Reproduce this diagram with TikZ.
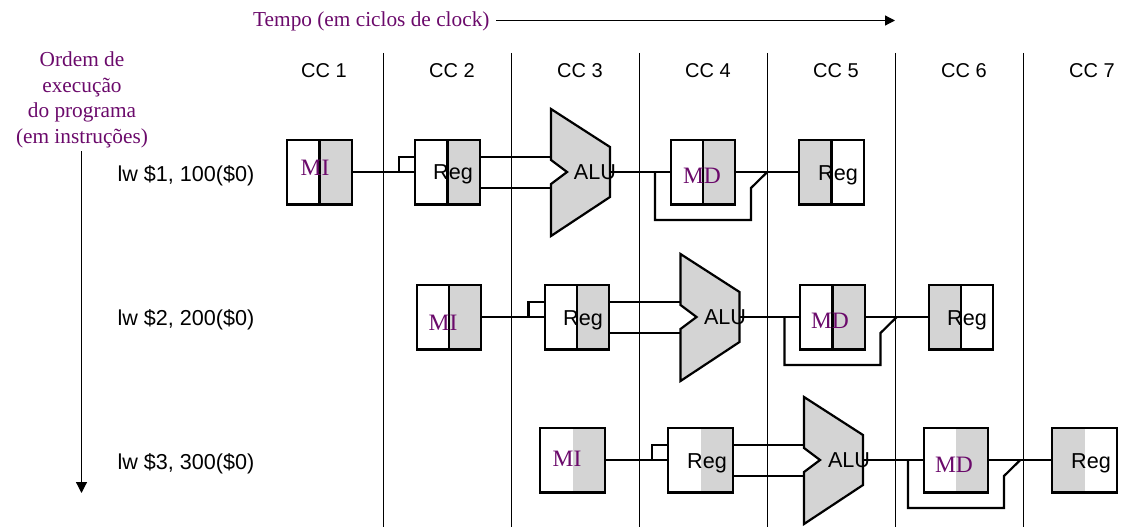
\documentclass[tikz,border=0pt]{standalone}
\usepackage{fontspec}
\setmainfont{Liberation Serif}
\setsansfont{Liberation Sans}
\usetikzlibrary{calc,arrows.meta}
\definecolor{pur}{HTML}{6B0A6B}
\definecolor{unitgray}{HTML}{D4D4D4}
\tikzset{
  wire/.style={line width=2.2pt,line join=miter},
  cycleline/.style={line width=1pt,black},
  timearrow/.style={line width=1.2pt,-{Triangle[length=10pt,width=10pt]}},
  orderarrow/.style={line width=1.2pt,-{Triangle[length=11pt,width=11pt]}},
  stagebox/.style={draw,line width=2.2pt,minimum width=64.5pt,minimum height=64.5pt,inner sep=0pt,outer sep=0pt},
  shadeR/.style={path picture={\fill[unitgray] (path picture bounding box.north) rectangle (path picture bounding box.south east);}},
  shadeL/.style={path picture={\fill[unitgray] (path picture bounding box.north) rectangle (path picture bounding box.south west);}},
  divR/.style={path picture={\fill[unitgray] (path picture bounding box.north) rectangle (path picture bounding box.south east);\draw[line width=2.2pt] (path picture bounding box.north) -- (path picture bounding box.south);}},
  divL/.style={path picture={\fill[unitgray] (path picture bounding box.north) rectangle (path picture bounding box.south west);\draw[line width=2.2pt] (path picture bounding box.north) -- (path picture bounding box.south);}},
  cc/.style={font=\sffamily\fontsize{20}{20}\selectfont,inner sep=0pt},
  inst/.style={font=\sffamily\fontsize{21.6}{22}\selectfont,inner sep=0pt},
  unitlabel/.style={font=\sffamily\fontsize{21.6}{22}\selectfont,inner sep=0pt},
  memlabel/.style={font=\fontsize{23.5}{24}\selectfont,text=pur,inner sep=0pt},
  ptext/.style={font=\fontsize{21.3}{22}\selectfont,text=pur,inner sep=0pt},
}
\newcommand{\pipeRow}[5]{% prefix, dx, dy, right-shade style, left-shade style
  \begin{scope}[shift={(#2,#3)}]
    \node[stagebox,#4] (#1mi) at (319.5,172.25) {};
    \node[stagebox,#4] (#1reg) at (447.5,172.25) {};
    \node[stagebox,#4] (#1md) at (703,172.25) {};
    \node[stagebox,#5] (#1wb) at (831.5,172.25) {};
    \draw[wire,fill=unitgray] (551,109) coordinate (#1alut) -- (610,147) -- (610,197)
      -- (551,236) coordinate (#1alub) -- (551,184) -- (567,172) -- (551,160) -- cycle;
    \coordinate (#1aluinA) at (551,157);
    \coordinate (#1aluinB) at (551,188);
    \coordinate (#1aluout) at (610,172.25);
    \coordinate (#1fork) at (399,172.25);
    \coordinate (#1forkT) at (399,157);
    \coordinate (#1regTL) at (415,157);
    \coordinate (#1regOA) at (479.75,157);
    \coordinate (#1regOB) at (479.75,188);
    \coordinate (#1mdA) at (655,172.25);
    \coordinate (#1mdB) at (655,220);
    \coordinate (#1mdC) at (751,220);
    \coordinate (#1mdD) at (751,188);
    \coordinate (#1mdE) at (767,172.25);
    \draw[wire] (#1mi.east) -- (#1reg.west);
    \draw[wire] (#1fork) -- (#1forkT) -- (#1regTL);
    \draw[wire] (#1regOA) -- (#1aluinA);
    \draw[wire] (#1regOB) -- (#1aluinB);
    \draw[wire] (#1aluout) -- (#1md.west);
    \draw[wire] (#1md.east) -- (#1wb.west);
    \draw[wire] (#1mdA) -- (#1mdB) -- (#1mdC) -- (#1mdD) -- (#1mdE);
  \end{scope}
}
\begin{document}
\begin{tikzpicture}[x=1pt,y=-1pt]
\useasboundingbox (0,0) rectangle (1121,527);
\foreach \n/\x in {a/383,b/511,c/639,d/767,e/895,f/1023}{
  \coordinate (top\n) at (\x,53);
  \coordinate (bot\n) at (\x,527);
  \draw[cycleline] (top\n) -- (bot\n);
}
\pipeRow{p}{0}{0}{divR}{divL}
\pipeRow{q}{129.5}{145}{divR}{divL}
\pipeRow{r}{253}{288}{shadeR}{shadeL}

\node[cc] (cc1) at (324,70.5) {CC 1};
\node[cc] (cc2) at (452,70.5) {CC 2};
\node[cc] (cc3) at (580,70.5) {CC 3};
\node[cc] (cc4) at (708,70.5) {CC 4};
\node[cc] (cc5) at (836,70.5) {CC 5};
\node[cc] (cc6) at (964,70.5) {CC 6};
\node[cc] (cc7) at (1092,70.5) {CC 7};

\node[ptext,anchor=west] (tempo) at (253,21.5) {Tempo (em ciclos de clock)};
\coordinate (tempoEnd) at (895,20.5);
\coordinate (tempoStart) at (496,20.5);
\draw[timearrow] (tempoStart) -- (tempoEnd);

\node[ptext,align=center,font=\fontsize{21.3}{25.7}\selectfont] (ordem) at (82,100) {Ordem de\\execução\\do programa\\(em instruções)};
\coordinate (ordemEnd) at (81.5,493);
\coordinate (ordemStart) at (81.5,151);
\draw[orderarrow] (ordemStart) -- (ordemEnd);

\node[inst] (i1) at (186,176) {lw \$1, 100(\$0)};
\node[inst] (i2) at (186,319.5) {lw \$2, 200(\$0)};
\node[inst] (i3) at (186,463.5) {lw \$3, 300(\$0)};

\node[memlabel] (l1) at (315,168) {MI};
\node[memlabel] (l2) at (443,323) {MI};
\node[memlabel] (l3) at (567,459) {MI};
\node[memlabel] (l4) at (702,176) {MD};
\node[memlabel] (l5) at (830,321) {MD};
\node[memlabel] (l6) at (954,465) {MD};
\node[unitlabel] (l7) at (453,174.5) {Reg};
\node[unitlabel] (l8) at (838,175.5) {Reg};
\node[unitlabel] (l9) at (583,320.5) {Reg};
\node[unitlabel] (l10) at (967,320.5) {Reg};
\node[unitlabel] (l11) at (707,463.5) {Reg};
\node[unitlabel] (l12) at (1091,463.5) {Reg};
\node[unitlabel] (l13) at (595,172.5) {ALU};
\node[unitlabel] (l14) at (725,317) {ALU};
\node[unitlabel] (l15) at (849,460) {ALU};
\end{tikzpicture}
\end{document}
